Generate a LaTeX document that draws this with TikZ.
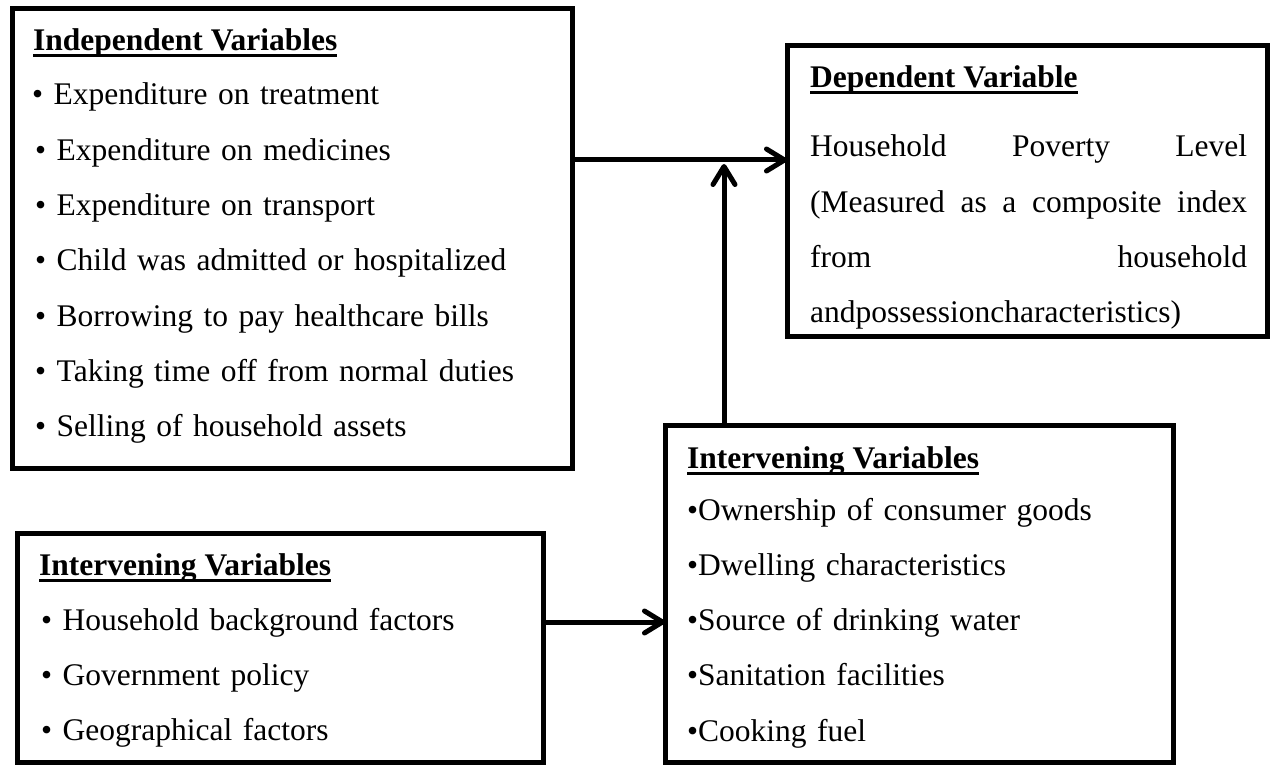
\documentclass[tikz,border=0pt]{standalone}
\usepackage{fontspec}
\setmainfont{Liberation Serif}
\usepackage{tikz}
\usetikzlibrary{arrows.meta, positioning}

\newsavebox{\titlebox}
\newcommand{\boxtitle}[1]{\sbox{\titlebox}{\bfseries #1}\rlap{\rule[-6.5pt]{\wd\titlebox}{3pt}}\usebox{\titlebox}}

\begin{document}
\begin{tikzpicture}[
  x=1pt, y=-1pt,
  box/.style={rectangle, draw=black, line width=5pt, outer sep=0pt, inner sep=0pt, anchor=north west},
  title/.style={anchor=base west, inner sep=0pt, font=\fontsize{31.5}{55.3}\selectfont},
  items/.style={anchor=base west, inner sep=0pt, text width=480pt, align=left, font=\fontsize{31.5}{55.3}\selectfont},
  arrow/.style={-{Straight Barb[length=18pt, width=22pt, round]}, line width=5pt}
]
\useasboundingbox (0,0) rectangle (1270,765);

\node[box, minimum width=560pt, minimum height=459pt] (indep) at (12,9) {};
\node[box, minimum width=480pt, minimum height=290pt] (dep) at (787,46) {};
\node[box, minimum width=508pt, minimum height=337pt] (interv) at (665,425) {};
\node[box, minimum width=526pt, minimum height=229pt] (backgr) at (17,533) {};

\node[title] (indeptitle) at ([xshift=21pt, yshift=-42pt]indep.north west) {\boxtitle{Independent Variables}};
\node[items, text width=530pt] (indepitems) at ([xshift=23pt, yshift=-96pt]indep.north west) {\hspace*{-3pt}• Expenditure on treatment\\
  • Expenditure on medicines\\
  • Expenditure on transport\\
  • Child was admitted or hospitalized\\
  • Borrowing to pay healthcare bills\\
  • Taking time off from normal duties\\
  • Selling of household assets};

\node[title] (deptitle) at ([xshift=23pt, yshift=-42pt]dep.north west) {\boxtitle{Dependent Variable}};
\node[items, text width=437pt] (depitems) at ([xshift=23pt, yshift=-111pt]dep.north west) {Household\hfill Poverty\hfill Level\\
  (Measured\hfill as\hfill a\hfill composite\hfill index\\
  from\hfill household\\
  andpossessioncharacteristics)};

\node[title] (intervtitle) at ([xshift=22pt, yshift=-43pt]interv.north west) {\boxtitle{Intervening Variables}};
\node[items] (intervitems) at ([xshift=22pt, yshift=-95pt]interv.north west) {•Ownership of consumer goods\\
  •Dwelling characteristics\\
  •Source of drinking water\\
  •Sanitation facilities\\
  •Cooking fuel};

\node[title] (backgrtitle) at ([xshift=22pt, yshift=-42pt]backgr.north west) {\boxtitle{Intervening Variables}};
\node[items] (backgritems) at ([xshift=24pt, yshift=-97pt]backgr.north west) {• Household background factors\\
  • Government policy\\
  • Geographical factors};

\coordinate (join) at (724,160);
\coordinate (link) at (600,622);

\draw[arrow] (indep.east |- join) -- (dep.west |- join);
\draw[arrow] (interv.north -| join) -- ([yshift=-4pt]join);
\draw[arrow] (backgr.east |- link) -- (interv.west |- link);

\end{tikzpicture}
\end{document}
